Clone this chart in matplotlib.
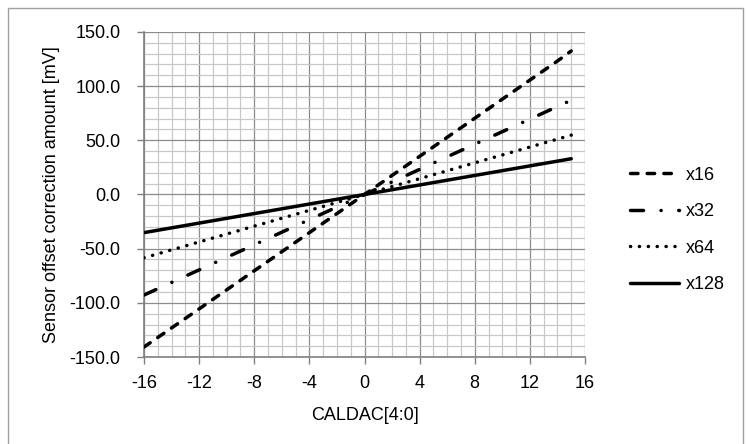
import matplotlib
matplotlib.use("Agg")
import matplotlib.pyplot as plt
from matplotlib.patches import Rectangle
from matplotlib.ticker import MultipleLocator, FormatStrFormatter

plt.rcParams['font.family'] = ['Liberation Sans', 'DejaVu Sans']
plt.rcParams['lines.scale_dashes'] = False
plt.rcParams['axes.unicode_minus'] = False

caldac = [-16, -15, -14, -13, -12, -11, -10, -9, -8, -7, -6, -5, -4, -3, -2, -1,
          0, 1, 2, 3, 4, 5, 6, 7, 8, 9, 10, 11, 12, 13, 14, 15]
x16 = [-140.8, -132.0, -123.2, -114.4, -105.6, -96.8, -88.0, -79.2, -70.4, -61.6,
       -52.8, -44.0, -35.2, -26.4, -17.6, -8.8, 0.0, 8.8, 17.6, 26.4, 35.2, 44.0,
       52.8, 61.6, 70.4, 79.2, 88.0, 96.8, 105.6, 114.4, 123.2, 132.5]
x32 = [-92.8, -87.0, -81.2, -75.4, -69.6, -63.8, -58.0, -52.2, -46.4, -40.6,
       -34.8, -29.0, -23.2, -17.4, -11.6, -5.8, 0.0, 5.8, 11.6, 17.4, 23.2, 29.0,
       34.8, 40.6, 46.4, 52.2, 58.0, 63.8, 69.6, 75.4, 81.2, 87.0]
x64 = [-58.4, -54.8, -51.1, -47.5, -43.8, -40.2, -36.5, -32.9, -29.2, -25.6,
       -21.9, -18.3, -14.6, -11.0, -7.3, -3.7, 0.0, 3.7, 7.3, 11.0, 14.6, 18.3,
       21.9, 25.6, 29.2, 32.9, 36.5, 40.2, 43.8, 47.5, 51.1, 54.8]
x128 = [-35.2, -33.0, -30.8, -28.6, -26.4, -24.2, -22.0, -19.8, -17.6, -15.4,
        -13.2, -11.0, -8.8, -6.6, -4.4, -2.2, 0.0, 2.2, 4.4, 6.6, 8.8, 11.0,
        13.2, 15.4, 17.6, 19.8, 22.0, 24.2, 26.4, 28.6, 30.8, 33.0]
series_names = ["x16", "x32", "x64", "x128"]

FS = 13

fig = plt.figure(figsize=(7.46, 4.44), dpi=100)
fig.patches.append(Rectangle((8/746, -0.05), (743-8)/746, (444-8)/444 + 0.05,
                             transform=fig.transFigure, fill=False,
                             edgecolor='#a0a0a0', linewidth=1.0))

ax = fig.add_axes([144/746, (444-357)/444, 441/746, 325/444])

lw = 2.5
ax.plot(caldac, x16, color='black', lw=lw, dashes=(5.4, 6.6),
        dash_capstyle='round', label=series_names[0], zorder=3)
ax.plot(caldac, x32, color='black', lw=lw, dashes=(9.4, 12.6, 0.1, 12.6),
        dash_capstyle='round', label=series_names[1], zorder=3)
ax.plot(caldac, x64, color='black', lw=lw, dashes=(0.1, 6.3),
        dash_capstyle='round', label=series_names[2], zorder=3)
ax.plot(caldac, x128, color='black', lw=lw, solid_capstyle='round',
        label=series_names[3], zorder=3)

ax.set_xlim(-16, 16)
ax.set_ylim(-150, 150)
ax.xaxis.set_major_locator(MultipleLocator(4))
ax.xaxis.set_minor_locator(MultipleLocator(1))
ax.yaxis.set_major_locator(MultipleLocator(50))
ax.yaxis.set_minor_locator(MultipleLocator(10))
ax.yaxis.set_major_formatter(FormatStrFormatter('%.1f'))

ax.grid(which='minor', color='#c8c8c8', linewidth=0.9, zorder=1)
ax.grid(which='major', color='#8c8c8c', linewidth=0.9, zorder=2)
ax.set_axisbelow(True)

for s in ['top', 'right']:
    ax.spines[s].set_visible(False)
for s in ['left', 'bottom']:
    ax.spines[s].set_color('#808080')
    ax.spines[s].set_linewidth(1.2)

ax.tick_params(which='minor', length=0)
ax.tick_params(which='major', direction='out', length=5, width=1.0,
               color='#808080', labelsize=FS, labelcolor='black')
ax.tick_params(axis='y', pad=12)
ax.tick_params(axis='x', pad=8)

ax.set_xlabel("CALDAC[4:0]", fontsize=FS, labelpad=11)
ax.set_ylabel("Sensor offset correction amount [mV]", fontsize=FS, labelpad=7)

leg = ax.legend(loc='center left', bbox_to_anchor=(614/746, (444-230)/444),
                bbox_transform=fig.transFigure, frameon=False, fontsize=FS,
                handlelength=2.7, handletextpad=0.4, labelspacing=1.08)

fig.savefig("out.png", dpi=100)
